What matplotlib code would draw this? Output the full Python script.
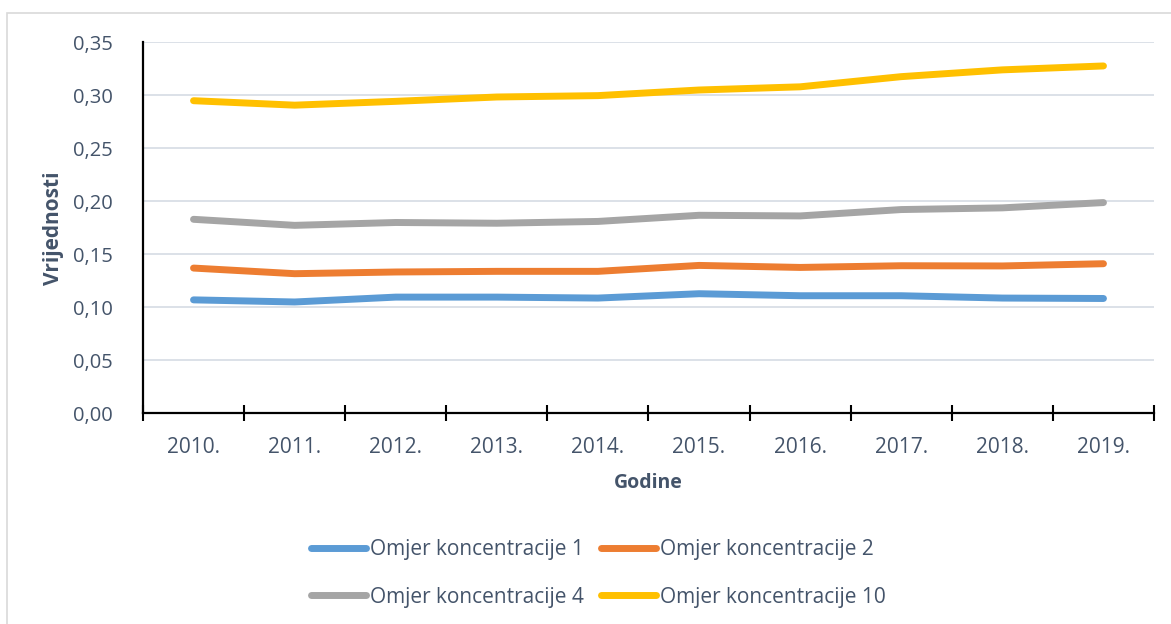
import matplotlib.pyplot as plt
from matplotlib.patches import Rectangle

# Data
years = ["2010.", "2011.", "2012.", "2013.", "2014.", "2015.", "2016.", "2017.", "2018.", "2019."]
cr1 = [0.107, 0.105, 0.1096, 0.1096, 0.1087, 0.1128, 0.1109, 0.1109, 0.1087, 0.1083]
cr2 = [0.137, 0.1317, 0.1333, 0.1339, 0.1339, 0.1395, 0.1376, 0.1392, 0.139, 0.1411]
cr4 = [0.183, 0.1773, 0.180, 0.1793, 0.181, 0.1868, 0.1862, 0.1922, 0.1938, 0.1988]
cr10 = [0.2949, 0.2907, 0.2943, 0.2984, 0.2997, 0.305, 0.308, 0.3176, 0.324, 0.3277]

series = [
    ("Omjer koncentracije 1", cr1, "#5B9BD5"),
    ("Omjer koncentracije 2", cr2, "#ED7D31"),
    ("Omjer koncentracije 4", cr4, "#A5A5A5"),
    ("Omjer koncentracije 10", cr10, "#FFC000"),
]

text_color = "#44546A"
plt.rcParams["font.family"] = ["Open Sans", "DejaVu Sans"]

fig = plt.figure(figsize=(11.71, 6.24), dpi=100)
ax = fig.add_axes([0.1221, 0.3377, 0.8634, 0.5945])

# outer chart frame
fig.patches.append(Rectangle((7 / 1171, -0.1), 1.2, (624 - 13) / 624 + 0.1,
                             transform=fig.transFigure, fill=False,
                             edgecolor="#D9D9D9", linewidth=1.2))

x = list(range(len(years)))
lines = []
for label, vals, col in series:
    ln, = ax.plot(x, vals, color=col, linewidth=5, solid_capstyle="round",
                  solid_joinstyle="round", label=label)
    lines.append(ln)

ax.set_xlim(-0.5, len(years) - 0.5)
ax.set_ylim(0, 0.35)
ax.set_yticks([i * 0.05 for i in range(8)])
ax.set_yticklabels([f"{i * 0.05:.2f}".replace(".", ",") for i in range(8)])
ax.yaxis.grid(True, color="#D9DEE6", linewidth=1.3)
ax.set_axisbelow(True)

# ticks at category boundaries, labels at centres
ax.set_xticks([i - 0.5 for i in range(len(years) + 1)])
ax.set_xticklabels([])
ax.set_xticks(x, minor=True)
ax.set_xticklabels(years, minor=True)
ax.tick_params(axis="x", which="major", direction="inout", length=11, width=1.5, color="black")
ax.tick_params(axis="x", which="minor", length=0, pad=17, labelsize=15, labelcolor=text_color)
ax.tick_params(axis="y", length=0, pad=22, labelsize=14.5, labelcolor=text_color)

for side in ["top", "right"]:
    ax.spines[side].set_visible(False)
for side in ["left", "bottom"]:
    ax.spines[side].set_linewidth(1.6)
    ax.spines[side].set_color("black")

ax.set_xlabel("Godine", fontsize=14, fontweight="bold", color=text_color, labelpad=11)
ax.set_ylabel("Vrijednosti", fontsize=15, fontweight="bold", color=text_color, labelpad=6)

# legend fills column-wise: order so rows read 1, 2 / 4, 10
order = [0, 2, 1, 3]
leg = ax.legend([lines[i] for i in order], [series[i][0] for i in order],
                loc="center", bbox_to_anchor=(0.4505, -0.432), bbox_transform=ax.transAxes,
                ncol=2, frameon=False, fontsize=15, handlelength=2.64, handletextpad=0.2,
                columnspacing=0.8, labelspacing=1.26, labelcolor=text_color)
for h in leg.legend_handles:
    h.set_linewidth(5)
    h.set_solid_capstyle("round")

fig.savefig("out.png", dpi=100)
